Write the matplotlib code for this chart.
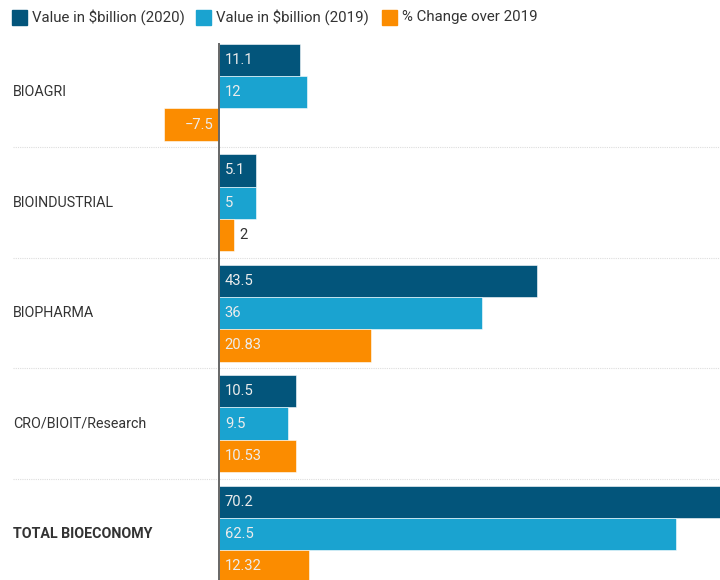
import matplotlib
matplotlib.use("Agg")
import matplotlib.pyplot as plt
from matplotlib.patches import Rectangle

plt.rcParams["font.family"] = ["Roboto", "DejaVu Sans"]

CATEGORIES = ["BIOAGRI", "BIOINDUSTRIAL", "BIOPHARMA", "CRO/BIOIT/Research", "TOTAL BIOECONOMY"]
VALUE_2020 = [11.1, 5.1, 43.5, 10.5, 70.2]
VALUE_2019 = [12, 5, 36, 9.5, 62.5]
PCT_CHANGE = [-7.5, 2, 20.83, 10.53, 12.32]
SERIES_NAMES = ["Value in $billion (2020)", "Value in $billion (2019)", "% Change over 2019"]
COLORS = ["#03557b", "#1aa3d0", "#fb8c00"]

W, H = 720, 580
fig = plt.figure(figsize=(W / 100, H / 100), dpi=100)

# axes spans full width; zero sits at x=219px, 7.31 px per unit
PX_UNIT = 7.31
X0 = 219
AX_TOP = 37
ax = fig.add_axes([0, 0, 1, 1 - AX_TOP / H])
ax.set_xlim(-X0 / PX_UNIT, (W - X0) / PX_UNIT)
GROUP_PX = 110.5
ybot = (H - 92) / GROUP_PX
ax.set_ylim(ybot, -0.5)
ax.axis("off")

bh = 32.3 / GROUP_PX
series = [VALUE_2020, VALUE_2019, PCT_CHANGE]
for s, vals in enumerate(series):
    for i, v in enumerate(vals):
        y = i + (s - 1) * bh
        ax.barh(y, v, height=bh, color=COLORS[s], edgecolor="white", linewidth=0.4, zorder=2)
        lab = f"{v:g}".replace("-", "\u2212")
        if v < 0:
            ax.text(-0.8, y, lab, ha="right", va="center", fontsize=10.6, color="#ececec", zorder=4)
        elif v * PX_UNIT < 20:
            ax.text(v + 0.8, y, lab, ha="left", va="center", fontsize=10.6, color="#333333", zorder=4)
        else:
            ax.text(0.8, y, lab, ha="left", va="center", fontsize=10.6, color="#ececec", zorder=4)

# category labels
xl = ax.get_xlim()[0] + 13 / PX_UNIT
for i, c in enumerate(CATEGORIES):
    ax.text(xl, i, c, ha="left", va="center", fontsize=10.3, color="#333333",
            fontweight="bold" if i == len(CATEGORIES) - 1 else "normal")

# dotted separators between groups
for i in range(len(CATEGORIES) - 1):
    ax.plot([xl, ax.get_xlim()[1]], [i + 0.5, i + 0.5], color="#dddddd", lw=0.8,
            ls=(0, (1, 1)), zorder=1)

# zero line
ax.plot([0, 0], [-1.5 * bh, ybot], color="#666666", lw=1.4, zorder=3)

# legend drawn by hand at the top
legend_x = [12, 196, 382]
for name, col, lx in zip(SERIES_NAMES, COLORS, legend_x):
    fig.patches.append(Rectangle((lx / W, 1 - 25 / H), 15 / W, 15 / H, transform=fig.transFigure,
                                 color=col))
    fig.text((lx + 20) / W, 1 - 17.5 / H, name, ha="left", va="center", fontsize=10.8,
             color="#333333")

fig.savefig("out.png", dpi=100)
